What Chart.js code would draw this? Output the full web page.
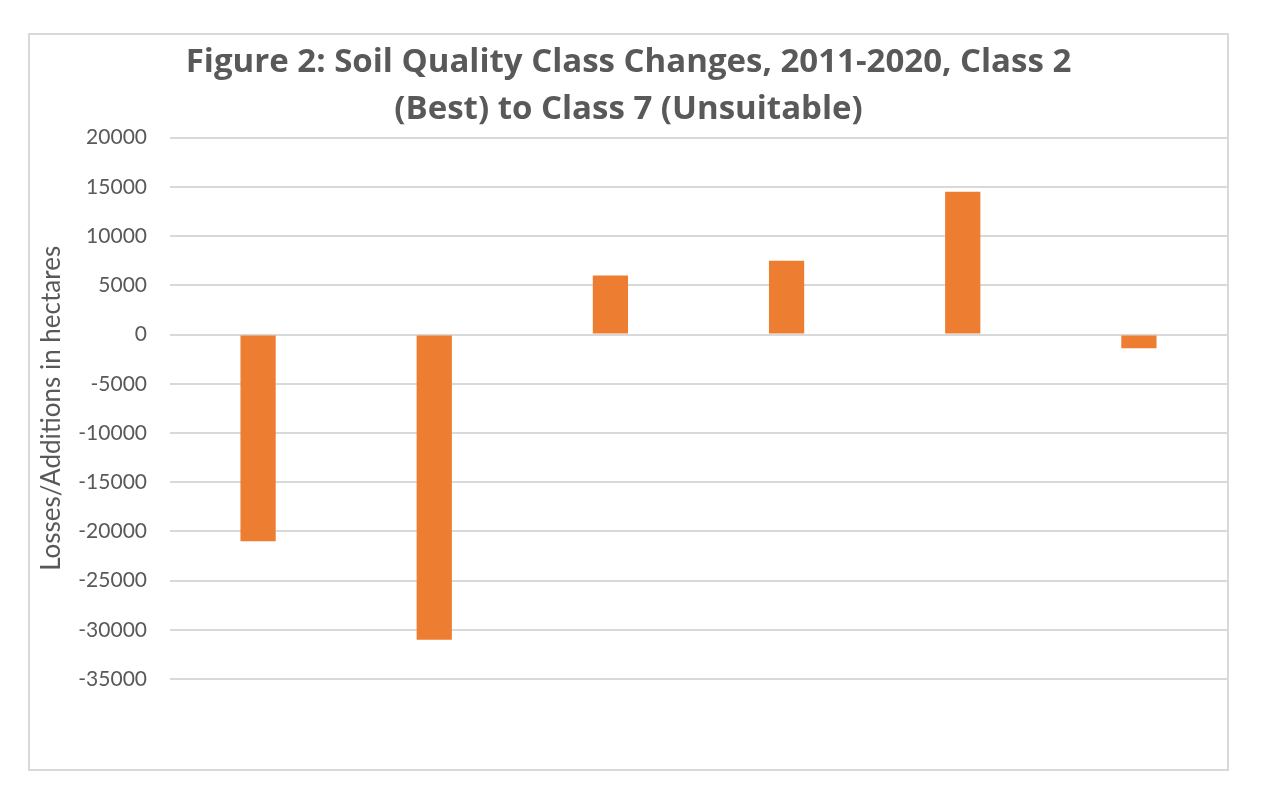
<!DOCTYPE html>
<html>
<head>
<meta charset="utf-8">
<script src="https://cdn.jsdelivr.net/npm/chart.js@4"></script>
<style>
  html, body { margin: 0; padding: 0; background: #fff; }
  #wrap { position: relative; width: 1268px; height: 800px; }
</style>
</head>
<body>
<div id="wrap"><canvas id="c" width="1268" height="800"></canvas></div>
<script>
const categories = ["Class 2", "Class 3", "Class 4", "Class 5", "Class 6", "Class 7"];
const changes = [-21000, -31000, 6000, 7500, 14500, -1400];
const titleLines = ["Figure 2: Soil Quality Class Changes, 2011-2020, Class 2", "(Best) to Class 7 (Unsuitable)"];
const yTitle = "Losses/Additions in hectares";
const yMin = -35000, yMax = 20000, yStep = 5000;

const frame = {
  id: 'frame',
  beforeDraw(chart) {
    const ctx = chart.ctx;
    ctx.save();
    ctx.fillStyle = '#ffffff';
    ctx.fillRect(0, 0, chart.width, chart.height);
    ctx.strokeStyle = '#d9d9d9';
    ctx.lineWidth = 2;
    ctx.strokeRect(29, 34, 1199, 736);
    ctx.restore();
  }
};

new Chart(document.getElementById('c'), {
  type: 'bar',
  data: {
    labels: categories,
    datasets: [{
      data: changes,
      backgroundColor: '#ED7D31',
      borderWidth: 0,
      categoryPercentage: 1.0,
      barPercentage: 0.2
    }]
  },
  options: {
    responsive: false,
    animation: false,
    devicePixelRatio: 1,
    layout: { padding: { left: 30, right: 41, top: 0, bottom: 121 } },
    plugins: {
      legend: { display: false },
      tooltip: { enabled: false },
      title: {
        display: true,
        text: titleLines,
        color: '#595959',
        font: { family: 'Open Sans', size: 33, weight: 'bold', lineHeight: 1.42 },
        padding: { top: 39, bottom: 5 }
      }
    },
    scales: {
      x: { display: false },
      y: {
        min: yMin,
        max: yMax,
        afterFit(scale) { scale.width = 140; },
        ticks: {
          stepSize: yStep,
          color: '#595959',
          font: { family: 'Lato', size: 21 },
          padding: 23,
          callback: v => String(v)
        },
        grid: { color: '#d9d9d9', lineWidth: 2, drawTicks: false },
        border: { display: false },
        title: {
          display: true,
          text: yTitle,
          color: '#595959',
          font: { family: 'Lato', size: 26 },
          padding: { top: 6, bottom: 0 }
        }
      }
    }
  },
  plugins: [frame]
});
</script>
</body>
</html>
